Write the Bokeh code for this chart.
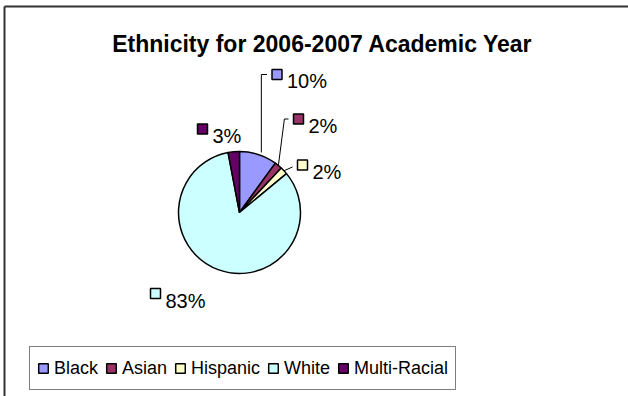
import math
from bokeh.plotting import figure
from bokeh.models import Range1d, ColumnDataSource, Legend, LegendItem
from bokeh.core.properties import value
from bokeh.embed import file_html
from bokeh.resources import INLINE

# ---- data ----
title = "Ethnicity for 2006-2007 Academic Year"
categories = ["Black", "Asian", "Hispanic", "White", "Multi-Racial"]
percents = [10, 2, 2, 83, 3]
colors = ["#9999FF", "#993366", "#FFFFCC", "#CCFFFF", "#660066"]

W, H = 628, 396
FONT = "Liberation Sans"

p = figure(width=W, height=H, output_backend="svg", toolbar_location=None,
           x_range=Range1d(0, W), y_range=Range1d(0, H),
           min_border=0, min_border_left=0, min_border_right=0,
           min_border_top=0, min_border_bottom=0)
p.axis.visible = False
p.grid.visible = False
p.outline_line_color = None
p.background_fill_color = "white"
p.border_fill_color = "white"

def Y(py):
    return H - py

# outer chart frame (top and left edges visible)
p.line([4, W + 10], [Y(6), Y(6)], line_color="#333333", line_width=2)
p.line([4, 4], [Y(6), Y(H + 10)], line_color="#333333", line_width=2)

# title
p.text(x=[322], y=[Y(43)], text=[title], text_font=value(FONT),
       text_font_style="bold", text_font_size="23px", text_align="center",
       text_baseline="alphabetic", text_color="black")

# pie
cx, cy, R = 239, Y(212), 61
total = sum(percents)
starts, ends, mids = [], [], []
acc = 0.0
for v in percents:
    a0 = math.pi / 2 - 2 * math.pi * acc / total
    acc += v
    a1 = math.pi / 2 - 2 * math.pi * acc / total
    starts.append(a0)
    ends.append(a1)
    mids.append((a0 + a1) / 2)

src = ColumnDataSource(dict(start=starts, end=ends, color=colors, label=categories))
wr = p.wedge(x=cx, y=cy, radius=R, start_angle="start", end_angle="end",
             direction="clock", fill_color="color", line_color="black",
             line_width=1.5, source=src)

# data labels (layout positions of label boxes)
box_pos = [(276.5, 74), (298, 118.5), (302, 164.5), (155, 293), (202, 128.5)]
baselines = [80.5, 125.5, 171, 300, 135.5]
bx, by, tx, ty, tt = [], [], [], [], []
for i, v in enumerate(percents):
    bx.append(box_pos[i][0])
    by.append(Y(box_pos[i][1]))
    tx.append(box_pos[i][0] + 10)
    ty.append(Y(baselines[i]))
    tt.append(f"{v}%")

# leader lines for the three small top-right slices
def edge(i):
    return cx + R * math.cos(mids[i]), cy + R * math.sin(mids[i])

x0, y0 = edge(0)
p.line([x0 + 3, x0 + 3, bx[0] - 10], [y0 + 2, by[0], by[0]], line_color="black", line_width=1)
x1, y1 = edge(1)
p.line([x1, x1 + 6, bx[1] - 10], [y1, by[1], by[1]], line_color="black", line_width=1)
x2, y2 = edge(2)
p.line([x2, bx[2] - 10], [y2, by[2] - 2], line_color="black", line_width=1)

p.rect(x=bx, y=by, width=10, height=10, fill_color=colors, line_color="black",
       line_width=1.5)
p.text(x=tx, y=ty, text=tt, text_font=value(FONT), text_font_size="20px",
       text_align="left", text_baseline="alphabetic", text_color="black")

# legend
items = [LegendItem(label=c, renderers=[wr], index=i) for i, c in enumerate(categories)]
legend = Legend(items=items, orientation="horizontal", location=(29, 6),
                border_line_color="black", border_line_width=1,
                label_text_font=FONT, label_text_font_size="18px",
                label_text_color="black", glyph_width=12, glyph_height=12,
                label_height=28, label_standoff=5, spacing=7, padding=7, margin=0,
                background_fill_color="white", background_fill_alpha=1)
p.add_layout(legend, "center")

open("out.html", "w").write(file_html(p, INLINE))
